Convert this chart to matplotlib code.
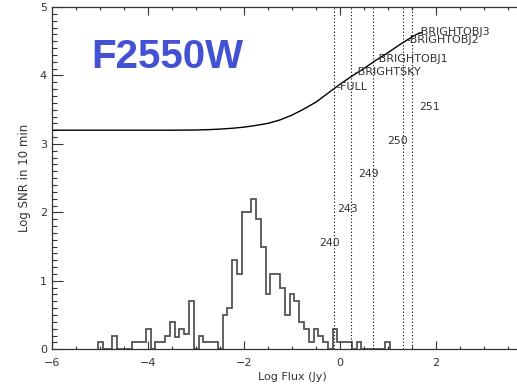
import numpy as np
import matplotlib
matplotlib.use("Agg")
import matplotlib.pyplot as plt
from matplotlib.ticker import MultipleLocator

# SNR curve (log flux vs log SNR in 10 min)
curve_x = [-6.0, -3.5, -3.0, -2.75, -2.5, -2.25, -2.0, -1.75, -1.5, -1.25, -1.0,
           -0.75, -0.5, -0.25, 0.0, 0.25, 0.5, 0.75, 1.0, 1.25, 1.5, 1.6, 1.72]
curve_y = [3.20, 3.20, 3.203, 3.208, 3.216, 3.228, 3.245, 3.27, 3.30, 3.35, 3.42,
           3.51, 3.61, 3.74, 3.87, 3.99, 4.10, 4.22, 4.33, 4.45, 4.56, 4.60, 4.63]

# saturation limits for the subarrays
sub_names = ["FULL", "BRIGHTSKY", "BRIGHTOBJ1", "BRIGHTOBJ2", "BRIGHTOBJ3"]
sub_limits = [-0.12, 0.24, 0.69, 1.31, 1.51]
sub_label_x = [-0.08, 0.30, 0.75, 1.40, 1.63]
sub_label_y = [3.83, 4.05, 4.24, 4.52, 4.64]

# source ids
src_names = ["240", "243", "249", "250", "251"]
src_x = [-0.22, 0.15, 0.59, 1.21, 1.88]
src_y = [1.55, 2.05, 2.56, 3.04, 3.54]

# histogram of source fluxes, bins of 0.1 dex centred on -5.0 ... 1.0
hist_centers = np.round(np.arange(-5.0, 1.05, 0.1), 2)
hist_vals = [0.1, 0, 0, 0.2, 0, 0, 0, 0.1, 0.1, 0.1,
             0.3, 0, 0.1, 0.1, 0.2, 0.4, 0.18, 0.3, 0.22, 0.7,
             0, 0.2, 0.1, 0.1, 0.1, 0, 0.5, 0.6, 1.3, 1.1,
             2.0, 2.0, 2.2, 1.9, 1.5, 0.8, 1.1, 1.1, 0.9, 0.5,
             0.8, 0.7, 0.4, 0.3, 0.1, 0.3, 0.2, 0.1, 0, 0.3,
             0.1, 0.1, 0.1, 0, 0.1, 0, 0, 0, 0, 0,
             0.1]
hist_edges = np.append(hist_centers - 0.05, hist_centers[-1] + 0.05)

xticks = [-6, -4, -2, 0, 2]

fig = plt.figure(figsize=(5.17, 3.87), dpi=100)
ax = fig.add_axes([0.1015, 0.0975, 0.9265, 0.8845])

txt = "#333333"

ax.stairs(hist_vals, hist_edges, baseline=0, color="#555555", lw=1.3)
ax.plot(curve_x, curve_y, color="black", lw=1.0)

for lim in sub_limits:
    ax.axvline(lim, color="black", ls=(0, (1, 2)), lw=0.8)

for name, lx, ly in zip(sub_names, sub_label_x, sub_label_y):
    ax.text(lx, ly, "-" + name, fontsize=8, color=txt, ha="left", va="center")

for name, sx, sy in zip(src_names, src_x, src_y):
    ax.text(sx, sy, name, fontsize=7.8, color=txt, ha="center", va="center")

ax.set_xlim(-6, 4)
ax.set_ylim(0, 5)
ax.set_xticks(xticks)
ax.xaxis.set_minor_locator(MultipleLocator(0.5))
ax.yaxis.set_major_locator(MultipleLocator(1))
ax.yaxis.set_minor_locator(MultipleLocator(0.1))
ax.tick_params(axis="both", which="both", direction="in", top=True, right=True,
               colors=txt, labelsize=8, width=0.8)
ax.tick_params(axis="x", which="major", length=5.5, pad=6)
ax.tick_params(axis="x", which="minor", length=2.5)
ax.tick_params(axis="y", which="major", length=8, pad=4)
ax.tick_params(axis="y", which="minor", length=3.6)
for sp in ax.spines.values():
    sp.set_color(txt)
    sp.set_linewidth(0.9)

ax.set_xlabel("Log Flux (Jy)", fontsize=8, color=txt, labelpad=3)
ax.set_ylabel("Log SNR in 10 min", fontsize=8.5, color=txt, labelpad=6)

fig.text(167.5 / 517, 1 - 57 / 387, "F2550W", fontsize=29, fontweight="bold",
         family="Liberation Sans", color="#4351D3", ha="center", va="center")

fig.savefig("out.png", dpi=100)
